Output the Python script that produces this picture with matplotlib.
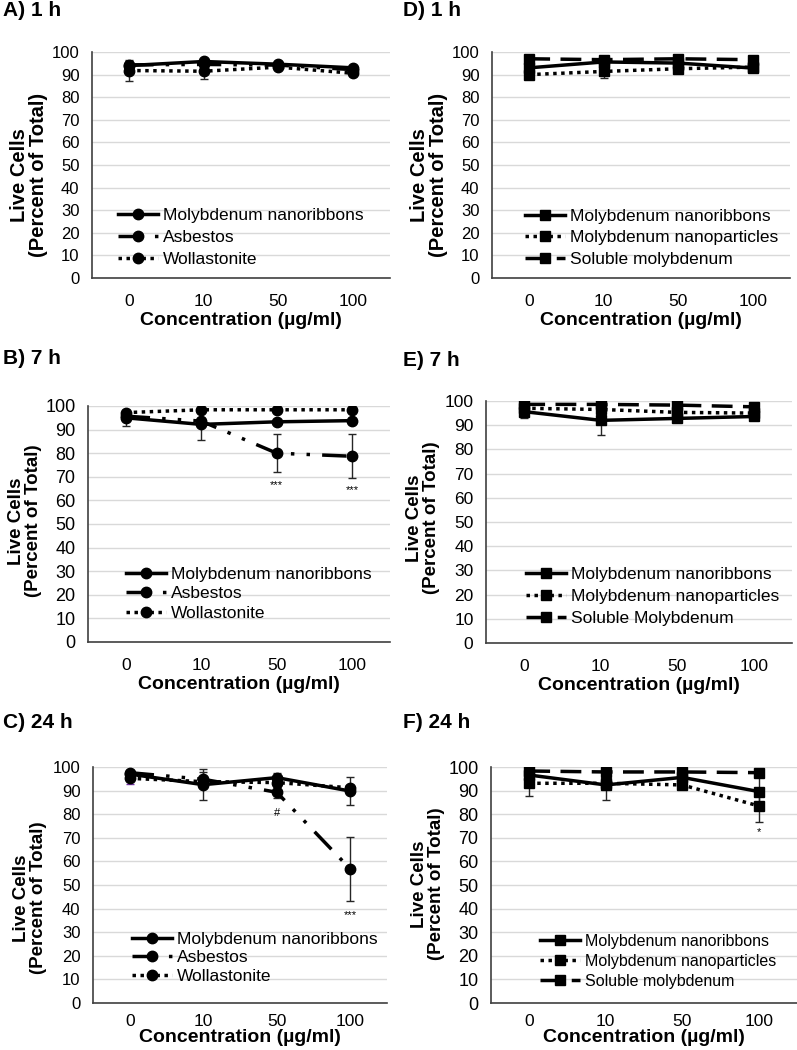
import numpy as np
import matplotlib.pyplot as plt

plt.rcParams['font.family'] = ['Liberation Sans', 'DejaVu Sans']

# concentrations (x categories)
conc = ['0', '10', '50', '100']

# ---- left column: nanoribbons vs asbestos vs wollastonite ----
a_ribbon = [94.0, 95.8, 94.6, 93.0]
a_ribbon_err = [2.0, 1.0, 1.0, 1.0]
a_asb = [94.3, 94.5, 94.2, 92.2]
a_asb_err = [1.0, 1.0, 1.0, 1.0]
a_wol = [91.8, 91.5, 93.3, 90.6]
a_wol_err = [4.8, 3.5, 1.0, 1.0]

b_ribbon = [95.0, 92.2, 93.3, 93.8]
b_ribbon_err = [3.5, 6.4, 1.0, 1.0]
b_asb = [95.7, 93.6, 80.0, 78.7]
b_asb_err = [1.5, 1.5, 8.0, 9.3]
b_wol = [97.2, 98.4, 98.4, 98.4]
b_wol_err = [1.0, 0.5, 0.5, 0.5]

c_ribbon = [97.0, 92.5, 95.5, 89.8]
c_ribbon_err = [1.5, 6.5, 2.0, 6.1]
c_asb = [97.6, 94.8, 89.3, 56.8]
c_asb_err = [1.0, 3.0, 2.3, 13.5]
c_wol = [95.2, 93.8, 93.4, 91.2]
c_wol_err = [2.4, 1.5, 1.5, 1.0]

# ---- right column: nanoribbons vs nanoparticles vs soluble Mo ----
d_ribbon = [93.0, 95.6, 95.1, 92.9]
d_ribbon_err = [1.0, 1.0, 1.0, 1.0]
d_part = [90.0, 91.4, 92.6, 93.3]
d_part_err = [1.0, 2.8, 1.0, 1.0]
d_sol = [97.0, 96.6, 97.0, 96.6]
d_sol_err = [0.5, 0.5, 0.5, 0.5]

e_ribbon = [95.6, 92.0, 92.8, 93.6]
e_ribbon_err = [2.8, 6.2, 1.0, 1.0]
e_part = [97.0, 96.5, 95.3, 95.0]
e_part_err = [0.5, 0.5, 0.5, 0.5]
e_sol = [98.6, 98.6, 98.3, 97.6]
e_sol_err = [0.5, 0.5, 0.5, 0.5]

f_ribbon = [96.6, 92.4, 95.6, 89.6]
f_ribbon_err = [1.5, 6.5, 2.0, 6.0]
f_part = [93.1, 93.1, 92.4, 83.5]
f_part_err = [5.4, 2.0, 1.0, 6.6]
f_sol = [98.3, 97.9, 97.9, 97.6]
f_sol_err = [0.5, 0.5, 0.5, 0.5]

names_left = ['Molybdenum nanoribbons', 'Asbestos', 'Wollastonite']
names_d = ['Molybdenum nanoribbons', 'Molybdenum nanoparticles', 'Soluble molybdenum']
names_e = ['Molybdenum nanoribbons', 'Molybdenum nanoparticles', 'Soluble Molybdenum']

# significance marks: (panel, category index, y, text)
marks = [('B', 2, 66.5, '***'), ('B', 3, 64.4, '***'),
         ('C', 2, 80.6, '#'), ('C', 3, 37.4, '***'),
         ('F', 3, 72.6, '*')]

solid = '-'
dotted = (0, (1, 1.3))
dashdotdot = (0, (7, 3.5, 1, 3.5, 1, 3.5))
dashed = (0, (6, 3))

W, H = 797, 1050
fig = plt.figure(figsize=(W / 100, H / 100), dpi=100)


def px_axes(left, top, right, bottom):
    return fig.add_axes([left / W, 1 - bottom / H, (right - left) / W, (bottom - top) / H])


panels = [
    # key, box, title, title y, series, names, marker, legend anchor, legend font,
    # ytick size, label spacing, handle length, xtick pad, xlabel pad,
    # ylabel centre y (px), ylabel size
    ('A', (92, 52, 390, 278), 'A) 1 h', 10,
     [(a_ribbon, a_ribbon_err, solid), (a_asb, a_asb_err, dashdotdot), (a_wol, a_wol_err, dotted)],
     names_left, 'o', (0.087, 0.05), 12.5, 12, 0.38, 2.3, 11.5, 2, 175, 14.5),
    ('B', (88, 406, 390, 642), 'B) 7 h', 359,
     [(b_ribbon, b_ribbon_err, solid), (b_asb, b_asb_err, dashdotdot), (b_wol, b_wol_err, dotted)],
     names_left, 'o', (0.126, 0.09), 12.5, 13, 0.25, 2.3, 11.5, 2, 521, 13.5),
    ('C', (93, 767, 387, 1003), 'C) 24 h', 722,
     [(c_ribbon, c_ribbon_err, solid), (c_asb, c_asb_err, dashdotdot), (c_wol, c_wol_err, dotted)],
     names_left, 'o', (0.133, 0.08), 12.5, 12, 0.2, 2.3, 8, 0, 898, 13.5),
    ('D', (492, 52, 790, 278), 'D) 1 h', 10,
     [(d_ribbon, d_ribbon_err, solid), (d_part, d_part_err, dotted), (d_sol, d_sol_err, dashed)],
     names_d, 's', (0.11, 0.05), 12.5, 12, 0.36, 2.3, 11.5, 2, 175, 14.5),
    ('E', (486, 401, 792, 643), 'E) 7 h', 360,
     [(e_ribbon, e_ribbon_err, solid), (e_part, e_part_err, dotted), (e_sol, e_sol_err, dashed)],
     names_e, 's', (0.13, 0.07), 12.5, 12.5, 0.4, 2.3, 11.5, 2, 518, 13.5),
    ('F', (491, 767, 797, 1003), 'F) 24 h', 723,
     [(f_ribbon, f_ribbon_err, solid), (f_part, f_part_err, dotted), (f_sol, f_sol_err, dashed)],
     names_d, 's', (0.16, 0.06), 11.5, 13, 0.32, 2.5, 8, 0, 884, 13.5),
]

x = np.arange(len(conc))

for (key, box, title, ty, series, names, mk, leg_xy, leg_fs, ytick_fs, lsp, hl,
     xpad, lpad, yl_y, yl_fs) in panels:
    ax = px_axes(*box)
    left, top, right, bottom = box

    for i, ((vals, err, ls), name) in enumerate(zip(series, names)):
        ecol = '#7030a0' if (key == 'C' and i == 2) else '#262626'
        ax.errorbar(x, vals, yerr=err, fmt='none', ecolor=ecol, elinewidth=1,
                    capsize=3, capthick=1, zorder=2)
        ax.plot(x, vals, color='black', lw=2.5, ls=ls, marker=mk,
                ms=7.5 if mk == 'o' else 7, label=name, zorder=3)

    for k, ci, yv, txt in marks:
        if k == key:
            ax.text(ci, yv, txt, ha='center', va='center', fontsize=8)

    ax.set_xlim(-0.5, 3.5)
    ax.set_ylim(0, 100)
    ax.set_xticks(x)
    ax.set_xticklabels(conc, fontsize=12.5)
    ax.set_yticks(np.arange(0, 101, 10))
    ax.tick_params(axis='y', labelsize=ytick_fs, length=0, pad=9)
    ax.tick_params(axis='x', length=0, pad=xpad)
    ax.grid(axis='y', color='#d9d9d9', lw=1)
    ax.set_axisbelow(True)
    for s in ['top', 'right']:
        ax.spines[s].set_visible(False)
    for s in ['left', 'bottom']:
        ax.spines[s].set_color('#404040')
        ax.spines[s].set_linewidth(1.2)

    ax.set_xlabel('Concentration (µg/ml)', fontsize=14, fontweight='bold', labelpad=lpad)
    fig.text((left - 63) / W, 1 - yl_y / H, 'Live Cells\n(Percent of Total)',
             rotation=90, ha='center', va='center', fontsize=yl_fs, fontweight='bold',
             linespacing=1.0)
    fig.text(3 / W if left < 200 else 403 / W, 1 - ty / H, title,
             ha='left', va='center', fontsize=15, fontweight='bold')

    ax.legend(loc='lower left', bbox_to_anchor=leg_xy, frameon=False, fontsize=leg_fs,
              handlelength=hl, handletextpad=0.3, labelspacing=lsp, borderpad=0,
              borderaxespad=0, numpoints=1)

fig.savefig('out.png', dpi=100)
